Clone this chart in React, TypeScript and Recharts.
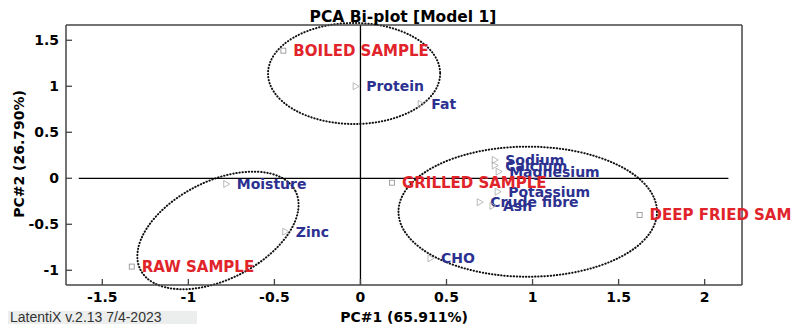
import { ScatterChart, Scatter, XAxis, YAxis, ReferenceLine, ReferenceArea } from 'recharts';

// scores (samples) on PC1 / PC2
const sampleNames = ['BOILED SAMPLE', 'RAW SAMPLE', 'GRILLED SAMPLE', 'DEEP FRIED SAMPLE'];
const samplePC1 = [-0.448, -1.329, 0.183, 1.622];
const samplePC2 = [1.387, -0.96, -0.048, -0.399];

// loadings (variables)
const varNames = ['Protein', 'Fat', 'Sodium', 'Calcium', 'Magnesium', 'Potassium', 'Crude fibre', 'Ash', 'CHO', 'Moisture', 'Zinc'];
const varPC1 = [-0.025, 0.353, 0.783, 0.783, 0.806, 0.8, 0.696, 0.77, 0.41, -0.777, -0.434];
const varPC2 = [1.0, 0.808, 0.199, 0.139, 0.072, -0.146, -0.26, -0.3, -0.87, -0.062, -0.58];

// grouping ellipses: centre, semi-axes (data units) and tilt (deg)
const ellipseCx = [-0.037, 0.972, -0.828];
const ellipseCy = [1.139, -0.363, -0.567];
const ellipseRx = [0.5, 0.751, 0.505];
const ellipseRy = [0.549, 0.707, 0.533];
const ellipseTilt = [0, 0, -26.9];

const xTicks = [-1.5, -1, -0.5, 0, 0.5, 1, 1.5, 2];
const yTicks = [-1, -0.5, 0, 0.5, 1, 1.5];

const RED = '#e1232a';
const BLUE = '#2c3190';
const FONT = '"DejaVu Sans", sans-serif';
const AXIS = '#454545';

const samples = sampleNames.map((name, i) => ({ name, x: samplePC1[i], y: samplePC2[i] }));
const variables = varNames.map((name, i) => ({ name, x: varPC1[i], y: varPC2[i] }));

/* eslint-disable @typescript-eslint/no-explicit-any */
function SampleMark({ cx, cy, payload }: any) {
  return (
    <g>
      <rect x={cx - 2.5} y={cy - 2.5} width={5} height={5} fill="none" stroke="#8c8c8c" strokeWidth={0.8} />
      <text x={cx + 10} y={cy} dy="0.36em" fill={RED} fontSize={15} fontWeight="bold" fontFamily={FONT}>
        {payload.name}
      </text>
    </g>
  );
}

function VariableMark({ cx, cy, payload }: any) {
  return (
    <g>
      <polygon
        points={`${cx - 3},${cy - 3.5} ${cx + 3},${cy} ${cx - 3},${cy + 3.5}`}
        fill="none"
        stroke="#a8a8a8"
        strokeWidth={0.8}
      />
      <text x={cx + 10} y={cy} dy="0.36em" fill={BLUE} fontSize={14} fontWeight="bold" fontFamily={FONT}>
        {payload.name}
      </text>
    </g>
  );
}

function DottedEllipse({ x, y, width, height, tilt }: any) {
  const cx = x + width / 2;
  const cy = y + height / 2;
  return (
    <ellipse
      cx={cx}
      cy={cy}
      rx={Math.abs(width / 2)}
      ry={Math.abs(height / 2)}
      transform={`rotate(${tilt} ${cx} ${cy})`}
      fill="none"
      stroke="#111"
      strokeWidth={2}
      strokeLinecap="round"
      strokeDasharray="0.4 2.7"
    />
  );
}
/* eslint-enable @typescript-eslint/no-explicit-any */

const tickStyle = { fill: '#000', fontSize: 14, fontWeight: 'bold', fontFamily: FONT };
const blank = () => '';

export default function App() {
  return (
    <div style={{ position: 'absolute', left: 0, top: 0, width: 792, height: 324, background: '#fff' }}>
      <ScatterChart width={792} height={324} margin={{ top: 0, right: 0, bottom: 0, left: 0 }}>
        <XAxis
          type="number"
          dataKey="x"
          domain={[-1.711, 2.217]}
          ticks={xTicks}
          interval={0}
          height={39}
          tickSize={-6}
          tickMargin={13}
          axisLine={{ stroke: AXIS, strokeWidth: 1.5 }}
          tickLine={{ stroke: AXIS, strokeWidth: 1.3 }}
          tick={tickStyle}
        />
        <XAxis
          xAxisId="top"
          orientation="top"
          type="number"
          dataKey="x"
          domain={[-1.711, 2.217]}
          ticks={xTicks}
          interval={0}
          height={25}
          tickSize={-6}
          tickFormatter={blank}
          axisLine={{ stroke: AXIS, strokeWidth: 1.5 }}
          tickLine={{ stroke: AXIS, strokeWidth: 1.3 }}
        />
        <YAxis
          type="number"
          dataKey="y"
          domain={[-1.16, 1.666]}
          ticks={yTicks}
          interval={0}
          width={66}
          tickSize={-6}
          tickMargin={13}
          axisLine={{ stroke: AXIS, strokeWidth: 1.5 }}
          tickLine={{ stroke: AXIS, strokeWidth: 1.3 }}
          tick={tickStyle}
        />
        <YAxis
          yAxisId="right"
          orientation="right"
          type="number"
          dataKey="y"
          domain={[-1.16, 1.666]}
          ticks={yTicks}
          interval={0}
          width={50}
          tickSize={-6}
          tickFormatter={blank}
          axisLine={{ stroke: AXIS, strokeWidth: 1.5 }}
          tickLine={{ stroke: AXIS, strokeWidth: 1.3 }}
        />
        <ReferenceLine x={0} stroke="#000" strokeWidth={1.3} />
        <ReferenceLine
          segment={[{ x: -1.637, y: 0 }, { x: 2.138, y: 0 }]}
          stroke="#000"
          strokeWidth={1.3}
        />
        {ellipseCx.map((c, i) => (
          <ReferenceArea
            key={i}
            x1={c - ellipseRx[i]}
            x2={c + ellipseRx[i]}
            y1={ellipseCy[i] - ellipseRy[i]}
            y2={ellipseCy[i] + ellipseRy[i]}
            ifOverflow="visible"
            shape={(p: any) => <DottedEllipse {...p} tilt={ellipseTilt[i]} />}
          />
        ))}
        <Scatter data={variables} shape={VariableMark} isAnimationActive={false} />
        <Scatter data={samples} shape={SampleMark} isAnimationActive={false} />
      </ScatterChart>

      <div style={{ position: 'absolute', left: 403, top: 18, transform: 'translate(-50%, -50%)', fontFamily: FONT, fontWeight: 'bold', fontSize: 15.5, lineHeight: 1, whiteSpace: 'nowrap', color: '#000' }}>
        PCA Bi-plot [Model 1]
      </div>
      <div style={{ position: 'absolute', left: 404, top: 317, transform: 'translate(-50%, -50%)', fontFamily: FONT, fontWeight: 'bold', fontSize: 14, lineHeight: 1, whiteSpace: 'nowrap', color: '#000' }}>
        PC#1 (65.911%)
      </div>
      <div style={{ position: 'absolute', left: 19, top: 154, transform: 'translate(-50%, -50%) rotate(-90deg)', fontFamily: FONT, fontWeight: 'bold', fontSize: 14, lineHeight: 1, whiteSpace: 'nowrap', color: '#000' }}>
        PC#2 (26.790%)
      </div>
      <div style={{ position: 'absolute', left: 8, top: 311, width: 189, height: 13, background: '#eceeee', fontFamily: '"Liberation Sans", Arial, sans-serif', fontSize: 14, lineHeight: '13px', paddingLeft: 2, boxSizing: 'border-box', whiteSpace: 'nowrap', color: '#333' }}>
        LatentiX v.2.13 7/4-2023
      </div>
    </div>
  );
}
